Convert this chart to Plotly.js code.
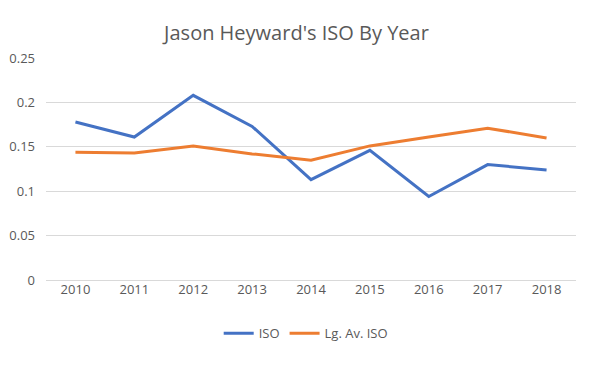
<!DOCTYPE html>
<html>
<head>
<meta charset="utf-8">
<script src="https://cdn.plot.ly/plotly-3.0.1.min.js"></script>
<style>html,body{margin:0;padding:0;background:#fff;}#chart{width:593px;height:379px;}</style>
</head>
<body>
<div id="chart"></div>
<script>
const years = ["2010","2011","2012","2013","2014","2015","2016","2017","2018"];
const iso = [0.178, 0.161, 0.208, 0.173, 0.113, 0.146, 0.094, 0.130, 0.124];
const lgAvIso = [0.144, 0.143, 0.151, 0.142, 0.135, 0.151, 0.161, 0.171, 0.160];
const yTicks = [0, 0.05, 0.1, 0.15, 0.2, 0.25];
const yTickLabels = ["0", "0.05", "0.1", "0.15", "0.2", "0.25"];

const traces = [
  {x: years, y: iso, name: "ISO", type: "scatter", mode: "lines",
   line: {color: "#4472C4", width: 3}},
  {x: years, y: lgAvIso, name: "Lg. Av. ISO", type: "scatter", mode: "lines",
   line: {color: "#ED7D31", width: 3}}
];

const layout = {
  width: 593, height: 379,
  margin: {l: 46, r: 17, t: 58, b: 99},
  paper_bgcolor: "#fff", plot_bgcolor: "#fff",
  font: {family: "Open Sans, Liberation Sans, sans-serif", size: 13, color: "#595959"},
  title: {text: "Jason Heyward's ISO By Year", x: 0.5, xanchor: "center", y: 0.912, yanchor: "middle",
          font: {size: 20, color: "#595959", family: "Open Sans, Liberation Sans, sans-serif"}},
  xaxis: {type: "category", range: [-0.5, 8.5], showgrid: false, zeroline: false,
          showline: false, ticks: "", tickfont: {size: 13, color: "#595959"}, fixedrange: true},
  yaxis: {range: [0, 0.25], tickvals: yTicks, ticktext: yTickLabels, showgrid: true,
          gridcolor: "#D9D9D9", gridwidth: 1, zeroline: true, zerolinecolor: "#D9D9D9", zerolinewidth: 1,
          showline: false, ticks: "",
          ticklabelstandoff: 10, tickfont: {size: 13, color: "#595959"}, fixedrange: true},
  showlegend: true,
  legend: {orientation: "h", x: 0.49, xanchor: "center", y: -0.24, yanchor: "middle",
           font: {size: 13, color: "#595959"}, itemwidth: 30, tracegroupgap: 0},
  hovermode: false
};

Plotly.newPlot("chart", traces, layout, {staticPlot: true, displayModeBar: false});
</script>
</body>
</html>
